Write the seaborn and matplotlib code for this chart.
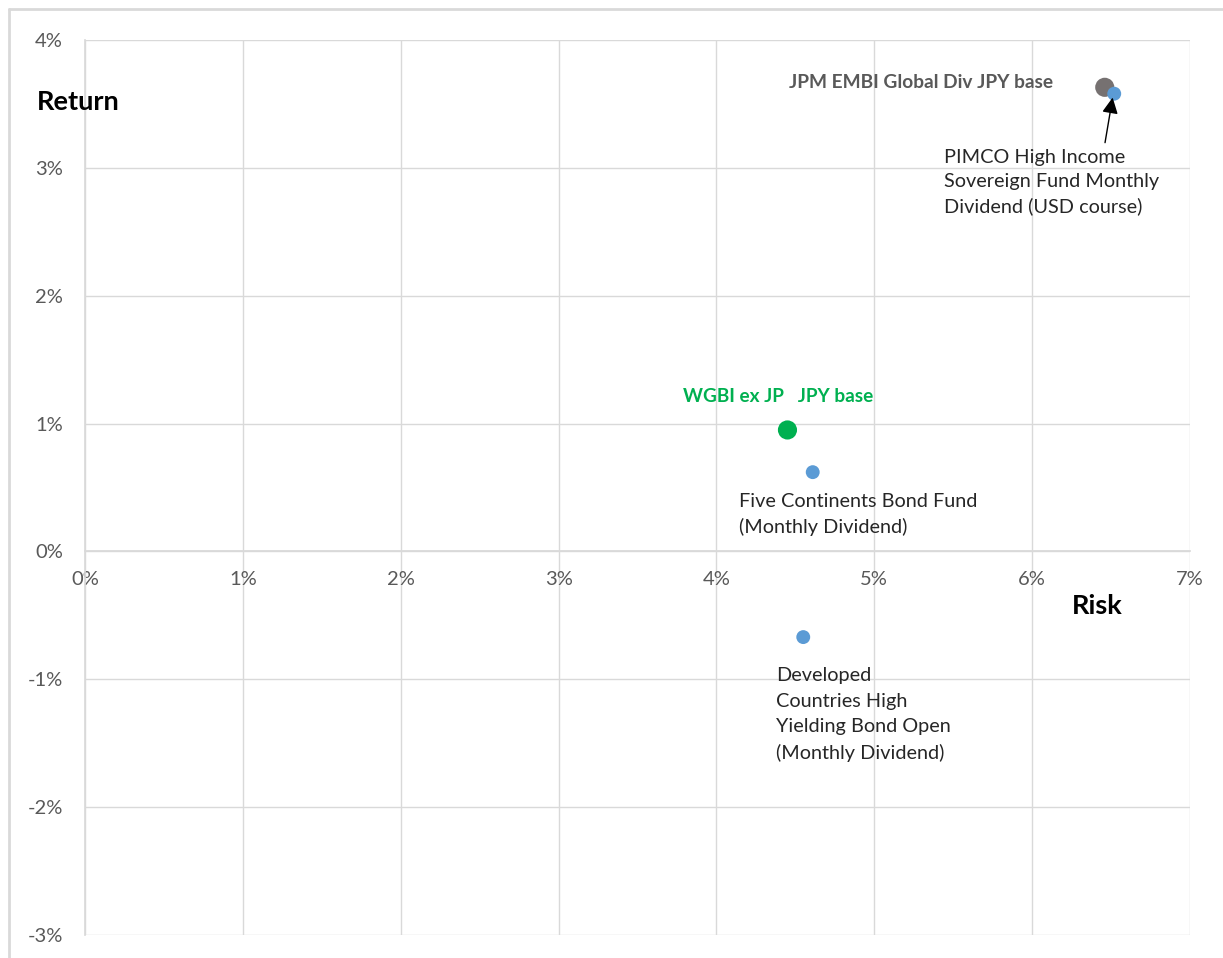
import matplotlib
matplotlib.use("Agg")
import matplotlib.pyplot as plt
import matplotlib.ticker as mticker
from matplotlib.lines import Line2D
import seaborn as sns
import pandas as pd

# ---- data ----
names = [
    "JPM EMBI Global Div JPY base",
    "PIMCO High Income\nSovereign Fund Monthly\nDividend (USD course)",
    "WGBI ex JP   JPY base",
    "Five Continents Bond Fund\n(Monthly Dividend)",
    "Developed\nCountries High\nYielding Bond Open\n(Monthly Dividend)",
]
kinds = ["Index EMBI", "Fund", "Index WGBI", "Fund", "Fund"]
risk = [6.46, 6.52, 4.45, 4.61, 4.55]
ret = [3.63, 3.58, 0.95, 0.62, -0.67]
x_ticks = [0, 1, 2, 3, 4, 5, 6, 7]
y_ticks = [-3, -2, -1, 0, 1, 2, 3, 4]

df = pd.DataFrame({"name": names, "kind": kinds, "risk": risk, "ret": ret})

sns.set_theme(style="white")
plt.rcParams["font.family"] = ["Lato", "DejaVu Sans"]

fig = plt.figure(figsize=(12.23, 9.58), dpi=100)
ax = fig.add_axes([85 / 1223, 1 - 935 / 958, (1190 - 85) / 1223, (935 - 40) / 958])

palette = {"Index EMBI": "#767171", "Fund": "#5B9BD5", "Index WGBI": "#00B050"}
sizes = {"Index EMBI": 190, "Fund": 100, "Index WGBI": 190}
sns.scatterplot(data=df, x="risk", y="ret", hue="kind", size="kind",
                palette=palette, sizes=sizes, hue_order=["Index EMBI", "Index WGBI", "Fund"],
                linewidth=0, legend=False, ax=ax, zorder=3)

ax.set_xlim(0, 7)
ax.set_ylim(-3, 4)
ax.set_xticks(x_ticks)
ax.set_yticks(y_ticks)
ax.xaxis.set_major_formatter(mticker.FuncFormatter(lambda v, p: f"{v:.0f}%"))
ax.yaxis.set_major_formatter(mticker.FuncFormatter(lambda v, p: f"{v:.0f}%"))
ax.grid(True, color="#D9D9D9", lw=1)
ax.set_axisbelow(True)
for s in ["top", "right"]:
    ax.spines[s].set_visible(False)
ax.spines["bottom"].set_position(("data", 0))
ax.spines["bottom"].set_color("#D9D9D9")
ax.spines["left"].set_color("#D9D9D9")
ax.tick_params(axis="x", length=0, pad=14, labelsize=14.5, labelcolor="#595959")
ax.tick_params(axis="y", length=0, pad=16, labelsize=14.5, labelcolor="#595959")
ax.set_xlabel("")
ax.set_ylabel("")

# labels
ax.text(6.13, 3.67, names[0], ha="right", va="center", fontsize=13.8,
        fontweight="bold", color="#595959")
ax.annotate(names[1], xy=(6.51, 3.55), xytext=(5.44, 3.15), ha="left", va="top",
            fontsize=14.3, color="#262626", linespacing=1.5,
            arrowprops=dict(arrowstyle="-|>", color="black", lw=1.0,
                            shrinkA=2, shrinkB=0, mutation_scale=24,
                            relpos=(0.745, 1.0)))
ax.text(4.39, 1.21, names[2], ha="center", va="center", fontsize=13.7,
        fontweight="bold", color="#00B050")
ax.text(4.14, 0.46, names[3], ha="left", va="top", fontsize=14.3,
        color="#262626", linespacing=1.55)
ax.text(4.38, -0.905, names[4], ha="left", va="top", fontsize=14.3,
        color="#262626", linespacing=1.6)

fig.text(37 / 1223, 1 - 102 / 958, "Return", ha="left", va="center",
         fontsize=19.5, fontweight="bold", color="black")
fig.text(1097 / 1223, 1 - 606 / 958, "Risk", ha="center", va="center",
         fontsize=19.5, fontweight="bold", color="black")

# outer chart border (top and left)
fig.add_artist(Line2D([9 / 1223, 1], [1 - 9 / 958, 1 - 9 / 958], color="#D9D9D9", lw=2,
                      transform=fig.transFigure))
fig.add_artist(Line2D([9 / 1223, 9 / 1223], [0, 1 - 9 / 958], color="#D9D9D9", lw=2,
                      transform=fig.transFigure))

fig.savefig("out.png", dpi=100)
